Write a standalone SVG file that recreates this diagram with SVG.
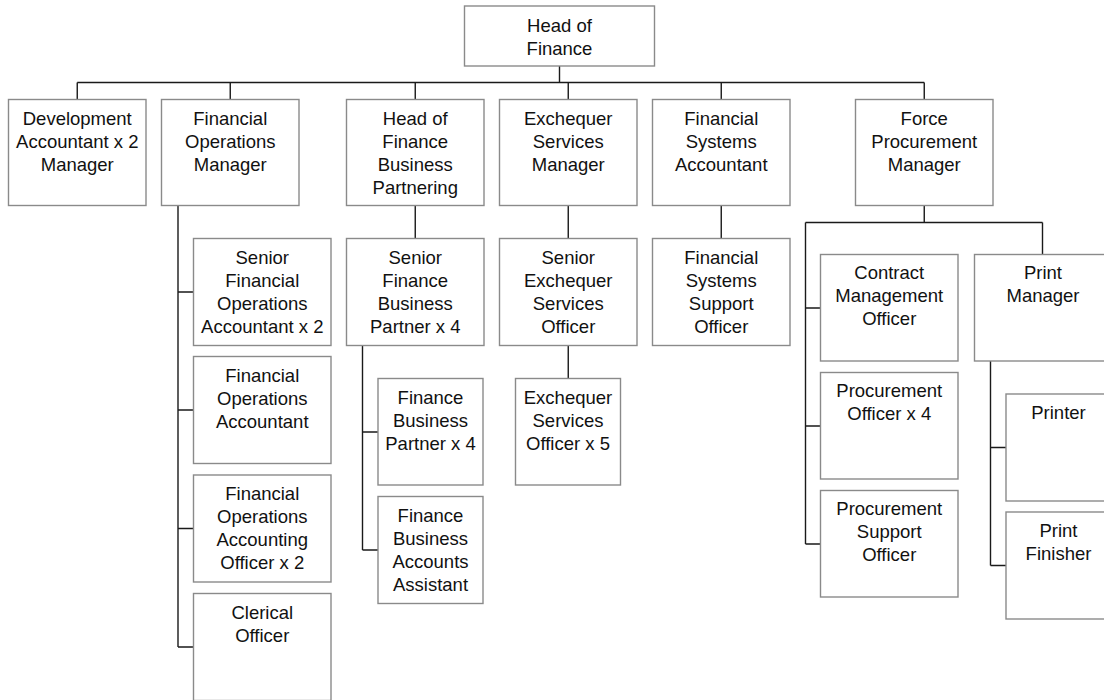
<svg xmlns="http://www.w3.org/2000/svg" width="1104" height="700" viewBox="0 0 1104 700">
<style>
.box{fill:#fff;stroke:#8a8a8a;stroke-width:1.4}
.ln{fill:none;stroke:#1a1a1a;stroke-width:1.4}
text{font-family:"Liberation Sans",Arial,sans-serif;font-size:18.5px;fill:#111;text-anchor:middle}
</style>
<rect width="1104" height="700" fill="#fff"/>
<g id="connectors" class="ln">
<path d="M559.5 66V82.5M77.25 82.5H924.25M77.25 82.5V99.5M230.25 82.5V99.5M415.25 82.5V99.5M568.25 82.5V99.5M721.25 82.5V99.5M924.25 82.5V99.5"/>
<path d="M178 205.5V647M178 292H193.5M178 410H193.5M178 528.5H193.5M178 647H193.5"/>
<path d="M415.25 205.5V238.5M362.5 345.5V550M362.5 432H378M362.5 550H378"/>
<path d="M568.25 205.5V238.5M568.25 345.5V378.5"/>
<path d="M721.25 205.5V238.5"/>
<path d="M924.25 205.5V222.5M805.5 222.5H1042.5M1042.5 222.5V254.5M805.5 222.5V544M805.5 308H820.5M805.5 426H820.5M805.5 544H820.5"/>
<path d="M990.5 361V565.5M990.5 447.5H1006M990.5 565.5H1006"/>
</g>
<g id="head"><rect class="box" x="464.5" y="6" width="190" height="60"/><text x="559.5" y="31.5">Head of</text><text x="559.5" y="54.5">Finance</text></g>
<g id="dev"><rect class="box" x="8.5" y="99.5" width="137.5" height="106"/><text x="77.25" y="124.5">Development</text><text x="77.25" y="147.5">Accountant x 2</text><text x="77.25" y="170.5">Manager</text></g>
<g id="fom"><rect class="box" x="161.5" y="99.5" width="137.5" height="106"/><text x="230.25" y="124.5">Financial</text><text x="230.25" y="147.5">Operations</text><text x="230.25" y="170.5">Manager</text></g>
<g id="hfbp"><rect class="box" x="346.5" y="99.5" width="137.5" height="106"/><text x="415.25" y="124.5">Head of</text><text x="415.25" y="147.5">Finance</text><text x="415.25" y="170.5">Business</text><text x="415.25" y="193.5">Partnering</text></g>
<g id="esm"><rect class="box" x="499.5" y="99.5" width="137.5" height="106"/><text x="568.25" y="124.5">Exchequer</text><text x="568.25" y="147.5">Services</text><text x="568.25" y="170.5">Manager</text></g>
<g id="fsa"><rect class="box" x="652.5" y="99.5" width="137.5" height="106"/><text x="721.25" y="124.5">Financial</text><text x="721.25" y="147.5">Systems</text><text x="721.25" y="170.5">Accountant</text></g>
<g id="fpm"><rect class="box" x="855.5" y="99.5" width="137.5" height="106"/><text x="924.25" y="124.5">Force</text><text x="924.25" y="147.5">Procurement</text><text x="924.25" y="170.5">Manager</text></g>
<g id="sfoa"><rect class="box" x="193.5" y="238.5" width="137.5" height="107"/><text x="262.25" y="263.5">Senior</text><text x="262.25" y="286.5">Financial</text><text x="262.25" y="309.5">Operations</text><text x="262.25" y="332.5">Accountant x 2</text></g>
<g id="foa"><rect class="box" x="193.5" y="356.5" width="137.5" height="107"/><text x="262.25" y="381.5">Financial</text><text x="262.25" y="404.5">Operations</text><text x="262.25" y="427.5">Accountant</text></g>
<g id="foao"><rect class="box" x="193.5" y="475" width="137.5" height="107"/><text x="262.25" y="500">Financial</text><text x="262.25" y="523">Operations</text><text x="262.25" y="546">Accounting</text><text x="262.25" y="569">Officer x 2</text></g>
<g id="co"><rect class="box" x="193.5" y="593.5" width="137.5" height="107"/><text x="262.25" y="618.5">Clerical</text><text x="262.25" y="641.5">Officer</text></g>
<g id="sfbp"><rect class="box" x="346.5" y="238.5" width="137.5" height="107"/><text x="415.25" y="263.5">Senior</text><text x="415.25" y="286.5">Finance</text><text x="415.25" y="309.5">Business</text><text x="415.25" y="332.5">Partner x 4</text></g>
<g id="fbp"><rect class="box" x="378" y="378.5" width="105" height="106.5"/><text x="430.5" y="403.5">Finance</text><text x="430.5" y="426.5">Business</text><text x="430.5" y="449.5">Partner x 4</text></g>
<g id="fbaa"><rect class="box" x="378" y="496.5" width="105" height="107"/><text x="430.5" y="521.5">Finance</text><text x="430.5" y="544.5">Business</text><text x="430.5" y="567.5">Accounts</text><text x="430.5" y="590.5">Assistant</text></g>
<g id="seso"><rect class="box" x="499.5" y="238.5" width="137.5" height="107"/><text x="568.25" y="263.5">Senior</text><text x="568.25" y="286.5">Exchequer</text><text x="568.25" y="309.5">Services</text><text x="568.25" y="332.5">Officer</text></g>
<g id="eso"><rect class="box" x="515.5" y="378.5" width="105" height="106.5"/><text x="568" y="403.5">Exchequer</text><text x="568" y="426.5">Services</text><text x="568" y="449.5">Officer x 5</text></g>
<g id="fsso"><rect class="box" x="652.5" y="238.5" width="137.5" height="107"/><text x="721.25" y="263.5">Financial</text><text x="721.25" y="286.5">Systems</text><text x="721.25" y="309.5">Support</text><text x="721.25" y="332.5">Officer</text></g>
<g id="cmo"><rect class="box" x="820.5" y="254.5" width="137.5" height="106.5"/><text x="889.25" y="279">Contract</text><text x="889.25" y="302">Management</text><text x="889.25" y="325">Officer</text></g>
<g id="po"><rect class="box" x="820.5" y="372.5" width="137.5" height="106.5"/><text x="889.25" y="397">Procurement</text><text x="889.25" y="420">Officer x 4</text></g>
<g id="pso"><rect class="box" x="820.5" y="490.5" width="137.5" height="106.5"/><text x="889.25" y="515">Procurement</text><text x="889.25" y="538">Support</text><text x="889.25" y="561">Officer</text></g>
<g id="pm"><rect class="box" x="974.5" y="254.5" width="137.5" height="106.5"/><text x="1043" y="279">Print</text><text x="1043" y="302">Manager</text></g>
<g id="printer"><rect class="box" x="1006" y="394" width="105" height="107"/><text x="1058.5" y="418.5">Printer</text></g>
<g id="finisher"><rect class="box" x="1006" y="512" width="105" height="107"/><text x="1058.5" y="536.5">Print</text><text x="1058.5" y="559.5">Finisher</text></g>
</svg>
